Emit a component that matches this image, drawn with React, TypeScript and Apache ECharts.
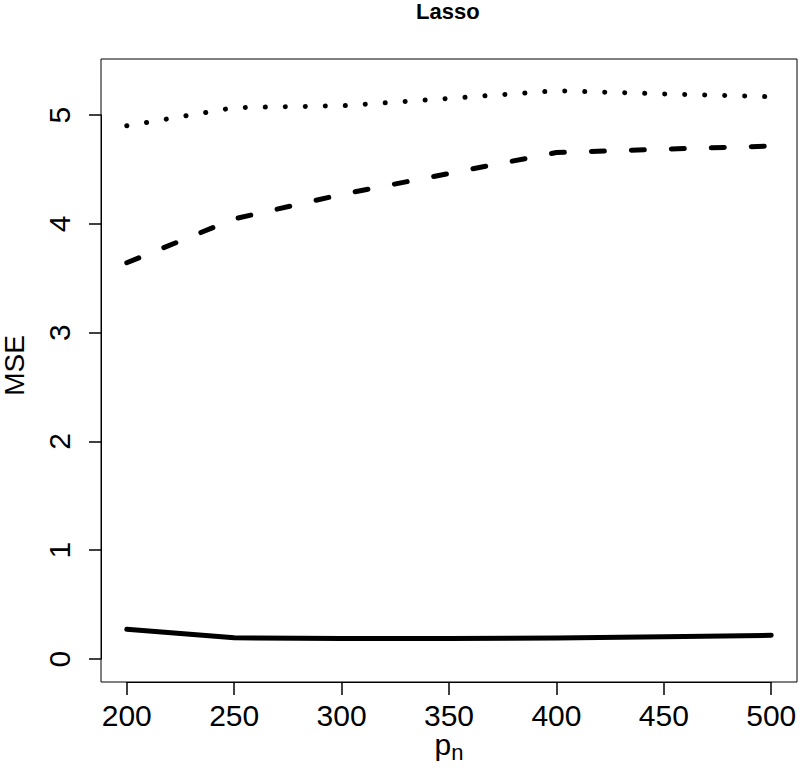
import React, { useEffect, useRef } from "react";
import * as echarts from "echarts";

const pn = [200, 250, 300, 350, 400, 450, 500];
const solidMSE = [0.273, 0.196, 0.188, 0.188, 0.194, 0.206, 0.218];
const dashedMSE = [3.642, 4.045, 4.27, 4.463, 4.655, 4.686, 4.715];
const dottedMSE = [4.901, 5.068, 5.085, 5.153, 5.223, 5.194, 5.168];
const xTickMin = 200;
const xTickMax = 500;
const xTickStep = 50;
const yTickMin = 0;
const yTickMax = 5;
const yTickStep = 1;

const FONT = "'Liberation Sans', Arial, Helvetica, sans-serif";

// plot box (R-style 4% padding around data range)
const X_MIN = 188;
const X_MAX = 512;
const Y_MIN = -0.211;
const Y_MAX = 5.515;
const BOX = { left: 101, right: 3, top: 59, bottom: 94 };
const W = 800;
const H = 776;

export default function App() {
  const ref = useRef<HTMLDivElement>(null);
  useEffect(() => {
    if (!ref.current) return;
    const chart = echarts.init(ref.current, null, { renderer: "svg" });
    const mk = (d: number[]) => pn.map((x, i) => [x, d[i]]);
    const lineBase = { type: "line", symbol: "none", silent: true, xAxisIndex: 0, yAxisIndex: 0 };

    const boxW = W - BOX.left - BOX.right;
    const boxH = H - BOX.top - BOX.bottom;
    const px = (v: number) => BOX.left + ((v - X_MIN) / (X_MAX - X_MIN)) * boxW;
    const py = (v: number) => BOX.top + ((Y_MAX - v) / (Y_MAX - Y_MIN)) * boxH;
    const tLeft = px(xTickMin);
    const tRight = W - px(xTickMax);
    const tTop = py(yTickMax);
    const tBottom = H - py(yTickMin);
    const xOffset = H - BOX.bottom - py(yTickMin);
    const yOffset = tLeft - BOX.left;

    chart.setOption({
      animation: false,
      backgroundColor: "#ffffff",
      title: {
        text: "Lasso",
        left: 416,
        top: 0,
        padding: 0,
        textStyle: { fontFamily: FONT, fontWeight: "bold", fontSize: 22, color: "#000" },
      },
      grid: [
        {
          ...BOX,
          containLabel: false,
          outerBoundsMode: "none",
          show: true,
          borderColor: "#000",
          borderWidth: 1,
          backgroundColor: "transparent",
        },
        {
          left: tLeft,
          right: tRight,
          top: tTop,
          bottom: tBottom,
          containLabel: false,
          outerBoundsMode: "none",
          show: false,
        },
      ],
      xAxis: [
        {
          type: "value",
          gridIndex: 0,
          min: X_MIN,
          max: X_MAX,
          name: "{p|p}{n|n}",
          nameLocation: "middle",
          nameGap: 47,
          nameTextStyle: {
            fontFamily: FONT,
            color: "#000",
            rich: {
              p: { fontSize: 30, fontFamily: FONT, color: "#000", verticalAlign: "bottom", padding: [0, 0, 4, 0] },
              n: { fontSize: 22, fontFamily: FONT, color: "#000", verticalAlign: "bottom" },
            },
          },
          splitLine: { show: false },
          axisLine: { show: false, onZero: false },
          axisTick: { show: false },
          axisLabel: { show: false },
        },
        {
          type: "value",
          gridIndex: 1,
          min: xTickMin,
          max: xTickMax,
          interval: xTickStep,
          position: "bottom",
          offset: xOffset,
          splitLine: { show: false },
          axisLine: { show: true, onZero: false, lineStyle: { color: "#000", width: 1 } },
          axisTick: { show: true, inside: false, length: 13, lineStyle: { color: "#000", width: 1.5 } },
          axisLabel: { margin: 21, lineHeight: 24, fontFamily: FONT, fontSize: 30, color: "#000" },
        },
      ],
      yAxis: [
        {
          type: "value",
          gridIndex: 0,
          min: Y_MIN,
          max: Y_MAX,
          name: "MSE",
          nameLocation: "middle",
          nameRotate: 90,
          nameGap: 75,
          nameTextStyle: { fontFamily: FONT, fontSize: 28, color: "#000", lineHeight: 24, padding: [0, 0, 0, 10] },
          splitLine: { show: false },
          axisLine: { show: false, onZero: false },
          axisTick: { show: false },
          axisLabel: { show: false },
        },
        {
          type: "value",
          gridIndex: 1,
          min: yTickMin,
          max: yTickMax,
          interval: yTickStep,
          position: "left",
          offset: yOffset,
          splitLine: { show: false },
          axisLine: { show: true, onZero: false, lineStyle: { color: "#000", width: 1 } },
          axisTick: { show: true, inside: false, length: 12, lineStyle: { color: "#000", width: 1.5 } },
          axisLabel: { rotate: 90, margin: 27, fontFamily: FONT, fontSize: 30, color: "#000" },
        },
      ],
      series: [
        {
          ...lineBase,
          data: mk(solidMSE),
          lineStyle: { color: "#000", width: 5, type: "solid", cap: "round", join: "round" },
        },
        {
          ...lineBase,
          data: mk(dashedMSE),
          lineStyle: { color: "#000", width: 5, type: [13, 27], cap: "round", join: "round" },
        },
        {
          ...lineBase,
          data: mk(dottedMSE),
          lineStyle: { color: "#000", width: 5, type: [0.1, 19.9], cap: "round", join: "round" },
        },
      ],
    });
    return () => chart.dispose();
  }, []);
  return (
    <div
      ref={ref}
      style={{ position: "absolute", left: 0, top: 0, width: W, height: H, background: "#fff" }}
    />
  );
}
